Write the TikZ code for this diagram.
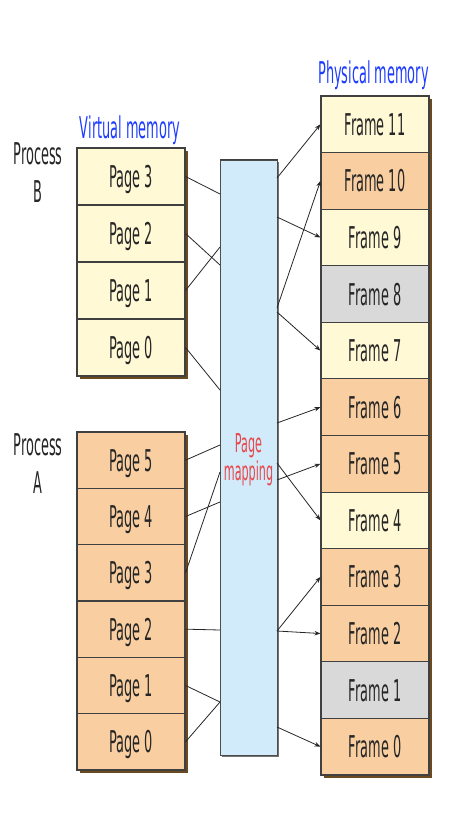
\documentclass[tikz,border=0pt]{standalone}
\usepackage{fontspec}
\newfontfamily\cond[FakeStretch=0.43]{DejaVu Sans}
\usetikzlibrary{arrows.meta}
\definecolor{cream}{HTML}{FFF9D6}
\definecolor{peach}{HTML}{F9CFA1}
\definecolor{grayc}{HTML}{D9D9D9}
\definecolor{mapblue}{HTML}{D1EBFB}
\definecolor{vblue}{HTML}{1E3CFF}
\definecolor{mred}{HTML}{E8474A}
\definecolor{shadowc}{HTML}{6B4A22}
\tikzset{
  cell/.style={draw=black!75, line width=1.1pt, minimum width=108pt, inner sep=0pt,
    text height=22pt, text depth=0pt, font=\cond\fontsize{30}{34}\selectfont, text=black!85},
  link/.style={line width=0.8pt, draw=black!85},
  arr/.style={link, -{Stealth[length=6pt,width=4.5pt]}},
  lbl/.style={inner sep=0pt, align=center, font=\cond\fontsize{30}{38.3}\selectfont, text=black!85},
  head/.style={inner sep=0pt, anchor=base, font=\cond\fontsize{30}{34}\selectfont, text=vblue},
  shade/.style={fill=shadowc}
}
\begin{document}
\begin{tikzpicture}[x=1pt,y=-1pt]
\useasboundingbox (0,0) rectangle (460,830);
% shadows
\fill[shade] (79.5,150.5) rectangle (187.5,378.5);
\fill[shade] (79.5,434.5) rectangle (187.5,772.5);
\fill[shade] (323.5,98.5) rectangle (431.5,777.5);
\fill[black!55] (221.5,162) rectangle (279,757);
% virtual memory, process B
\foreach \n/\k in {3/0,2/1,1/2,0/3}{
  \node[cell, fill=cream, minimum height=57pt] (b\n) at (131,{176.5+57*\k}) {Page \n};
}
% process A
\foreach \n/\k in {5/0,4/1,3/2,2/3,1/4,0/5}{
  \node[cell, fill=peach, minimum height=56.33pt] (a\n) at (131,{460.17+56.33*\k}) {Page \n};
}
% physical memory
\foreach \n/\c in {11/cream,10/peach,9/cream,8/grayc,7/cream,6/peach,5/peach,4/cream,3/peach,2/peach,1/grayc,0/peach}{
  \node[cell, fill=\c, minimum height=56.58pt] (f\n) at (375,{96+(11-\n+0.5)*56.58}) {Frame \n};
}
% page mapping
\node[draw=black!70, line width=1pt, fill=mapblue, minimum width=57pt, minimum height=595pt, inner sep=0pt] (map) at (248.5,457.5) {};
\draw[black!75, line width=1.6pt] (map.north west) -- (map.north east);
\node[inner sep=0pt, anchor=north, align=center, text=mred, font=\cond\fontsize{26}{28.3}\selectfont] (maplbl) at (248.5,433.3) {Page\\mapping};
% labels
\node[head] (vm) at (130,138.3) {Virtual memory};
\node[head] (pm) at (373.5,83) {Physical memory};
\node[lbl, anchor=north] (pb) at (38,142.5) {Process\\B};
\node[lbl, anchor=north] (pa) at (38,433.5) {Process\\A};
% connection points on the mapping box
\coordinate (lb3) at (220,194);
\coordinate (lb2) at (220,265);
\coordinate (lb1) at (220,247);
\coordinate (lb0) at (220,390);
\coordinate (la5) at (220,445);
\coordinate (la4) at (220,502);
\coordinate (la3) at (220,472);
\coordinate (la2) at (220,630);
\coordinate (la10) at (220,702);
\coordinate (r11) at (277,178);
\coordinate (r9) at (277,217);
\coordinate (r10) at (277,308);
\coordinate (r7) at (277,312);
\coordinate (r6) at (277,423);
\coordinate (r5) at (277,480);
\coordinate (r4) at (277,463);
\coordinate (r32) at (277,631);
\coordinate (r0) at (277,727);
% left links
\draw[link] (b3.east) -- (lb3);
\draw[link] (b2.east) -- (lb2);
\draw[link] (b1.east) -- (lb1);
\draw[link] (b0.east) -- (lb0);
\draw[link] (a5.east) -- (la5);
\draw[link] (a4.east) -- (la4);
\draw[link] (a3.east) -- (la3);
\draw[link] (a2.east) -- (la2);
\draw[link] (a1.east) -- (la10);
\draw[link] (a0.east) -- (la10);
% right links
\draw[arr] (r11) -- (f11.west);
\draw[arr] (r9) -- (f9.west);
\draw[arr] (r10) -- (f10.west);
\draw[arr] (r7) -- (f7.west);
\draw[arr] (r6) -- (f6.west);
\draw[arr] (r5) -- (f5.west);
\draw[arr] (r4) -- (f4.west);
\draw[arr] (r32) -- (f3.west);
\draw[arr] (r32) -- (f2.west);
\draw[arr] (r0) -- (f0.west);
\end{tikzpicture}
\end{document}
